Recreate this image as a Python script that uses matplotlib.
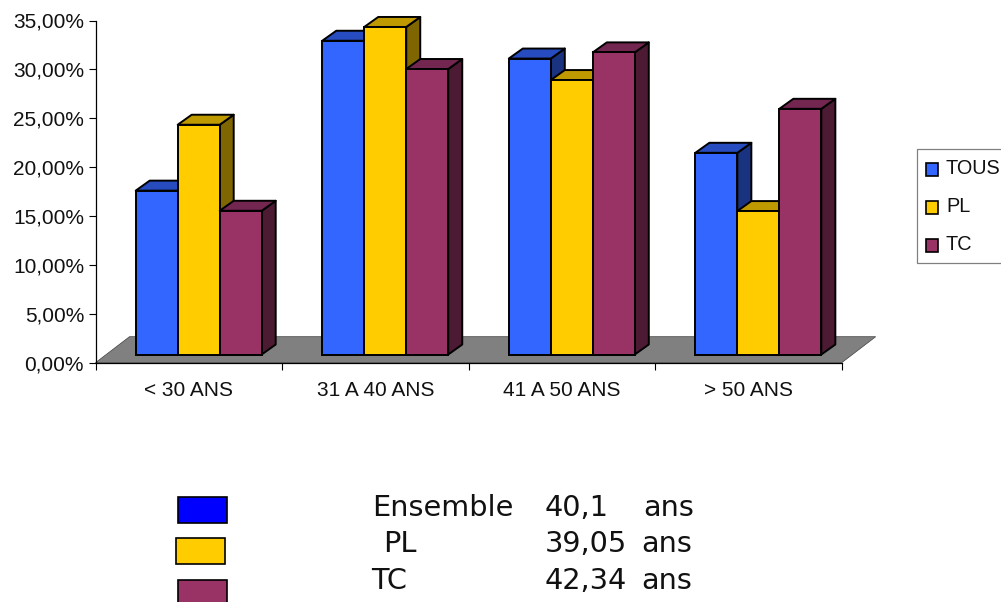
# Age distribution, fake 3D bars

import numpy as np
import matplotlib
matplotlib.use('Agg')
from matplotlib import pyplot as plt
from matplotlib.patches import Rectangle

categories = ['< 30 ANS', '31 A 40 ANS', '41 A 50 ANS', '> 50 ANS']
series = ['TOUS', 'PL', 'TC']
tous = [16.76, 32.09, 30.27, 20.63]
pl = [23.5, 33.5, 28.07, 14.67]
tc = [14.7, 29.2, 30.9, 25.13]
values = [tous, pl, tc]
yticks = [0, 5, 10, 15, 20, 25, 30, 35]
ages = [('Ensemble', '40,1', 'ans'), ('PL', '39,05', 'ans'), ('TC', '42,34', 'ans')]

front = ['#3366FF', '#FFCC00', '#993366']
top = ['#264CBF', '#BF9900', '#732650']
side = ['#1A3380', '#806600', '#4D1A33']

plt.rcParams['font.family'] = ['Liberation Sans', 'DejaVu Sans']
W, H = 1001, 602
fig = plt.figure(figsize=(W / 100, H / 100), dpi=100)

# pixel box of the axes
x0, x1, y0, y1 = 95.5, 841.7, 362.7, 20.5
ax = fig.add_axes([x0 / W, 1 - y0 / H, (x1 - x0) / W, (y0 - y1) / H])
ax.set_xlim(0, 4)
ax.set_ylim(0, 35)
px_x = 4 / (x1 - x0)
px_y = 35 / (y0 - y1)

# depth of the bars and floor
dx, dy = 14 * px_x, 10 * px_y
fx, fy = 34 * px_x, 26 * px_y
base = 8.2 * px_y
width = 42 * px_x
shift = 40.2 * px_x
lw = 1.4

ax.fill([0, fx, 4 + fx, 4], [0, fy, fy, 0], color='#808080', ec='#404040', lw=0.5, clip_on=False, zorder=1)

z = 2
for c in range(len(categories)):
    for s in range(len(series)):
        l = c + shift + s * width
        r = l + width
        t = values[s][c] + base
        ax.fill([r, r + dx, r + dx, r], [base, base + dy, t + dy, t], fc=side[s], ec='black', lw=lw,
                clip_on=False, zorder=z, joinstyle='round')
        ax.fill([l, l + dx, r + dx, r], [t, t + dy, t + dy, t], fc=top[s], ec='black', lw=lw,
                clip_on=False, zorder=z, joinstyle='round')
        ax.bar(l, values[s][c], width=width, bottom=base, align='edge', color=front[s], ec='black', lw=lw,
               clip_on=False, zorder=z)
        z += 1

for sp in ['top', 'right']:
    ax.spines[sp].set_visible(False)
for sp in ['left', 'bottom']:
    ax.spines[sp].set_linewidth(0.9)
ax.set_yticks(yticks)
ax.set_yticklabels(['%d,00%%' % v for v in yticks], fontsize=15, color='#111111')
ax.set_xticks(range(5))
ax.set_xticklabels([])
ax.tick_params(axis='y', length=4.7, width=0.8, pad=3.5)
ax.tick_params(axis='x', length=4.7, width=0.8)
for c, name in enumerate(categories):
    ax.text(c + 0.5, -2.8, name, ha='center', va='center', fontsize=15, color='#111111')

# overlay in pixel coordinates for the legend and the box below
ov = fig.add_axes([0, 0, 1, 1])
ov.set_xlim(0, W)
ov.set_ylim(H, 0)
ov.axis('off')
ov.patch.set_alpha(0)

ov.add_patch(Rectangle((917, 149), 90, 114, fc='white', ec='#808080', lw=0.9))
for y, name, col in zip([169, 207, 245], series, front):
    ov.add_patch(Rectangle((925.5, y - 6), 12.5, 12.5, fc=col, ec='black', lw=1.2))
    ov.text(946, y, name, ha='left', va='center', fontsize=14.3, color='#111111')

swatches = [(178, 497, '#0000FF'), (176, 538, '#FFCC00'), (178, 580, '#993366')]
for x, y, col in swatches:
    ov.add_patch(Rectangle((x, y), 49, 26, fc=col, ec='black', lw=1.2))

name_x = [372, 383, 371]
unit_x = [643, 641, 641]
rows = [516, 552, 589]
for i, (a, b, u) in enumerate(ages):
    ov.text(name_x[i], rows[i], a, ha='left', va='baseline', fontsize=20.7, family='DejaVu Sans', color='#111111')
    ov.text(545, rows[i], b, ha='left', va='baseline', fontsize=20.7, family='DejaVu Sans', color='#111111')
    ov.text(unit_x[i], rows[i], u, ha='left', va='baseline', fontsize=20.7, family='DejaVu Sans', color='#111111')

fig.savefig('out.png', dpi=100)
